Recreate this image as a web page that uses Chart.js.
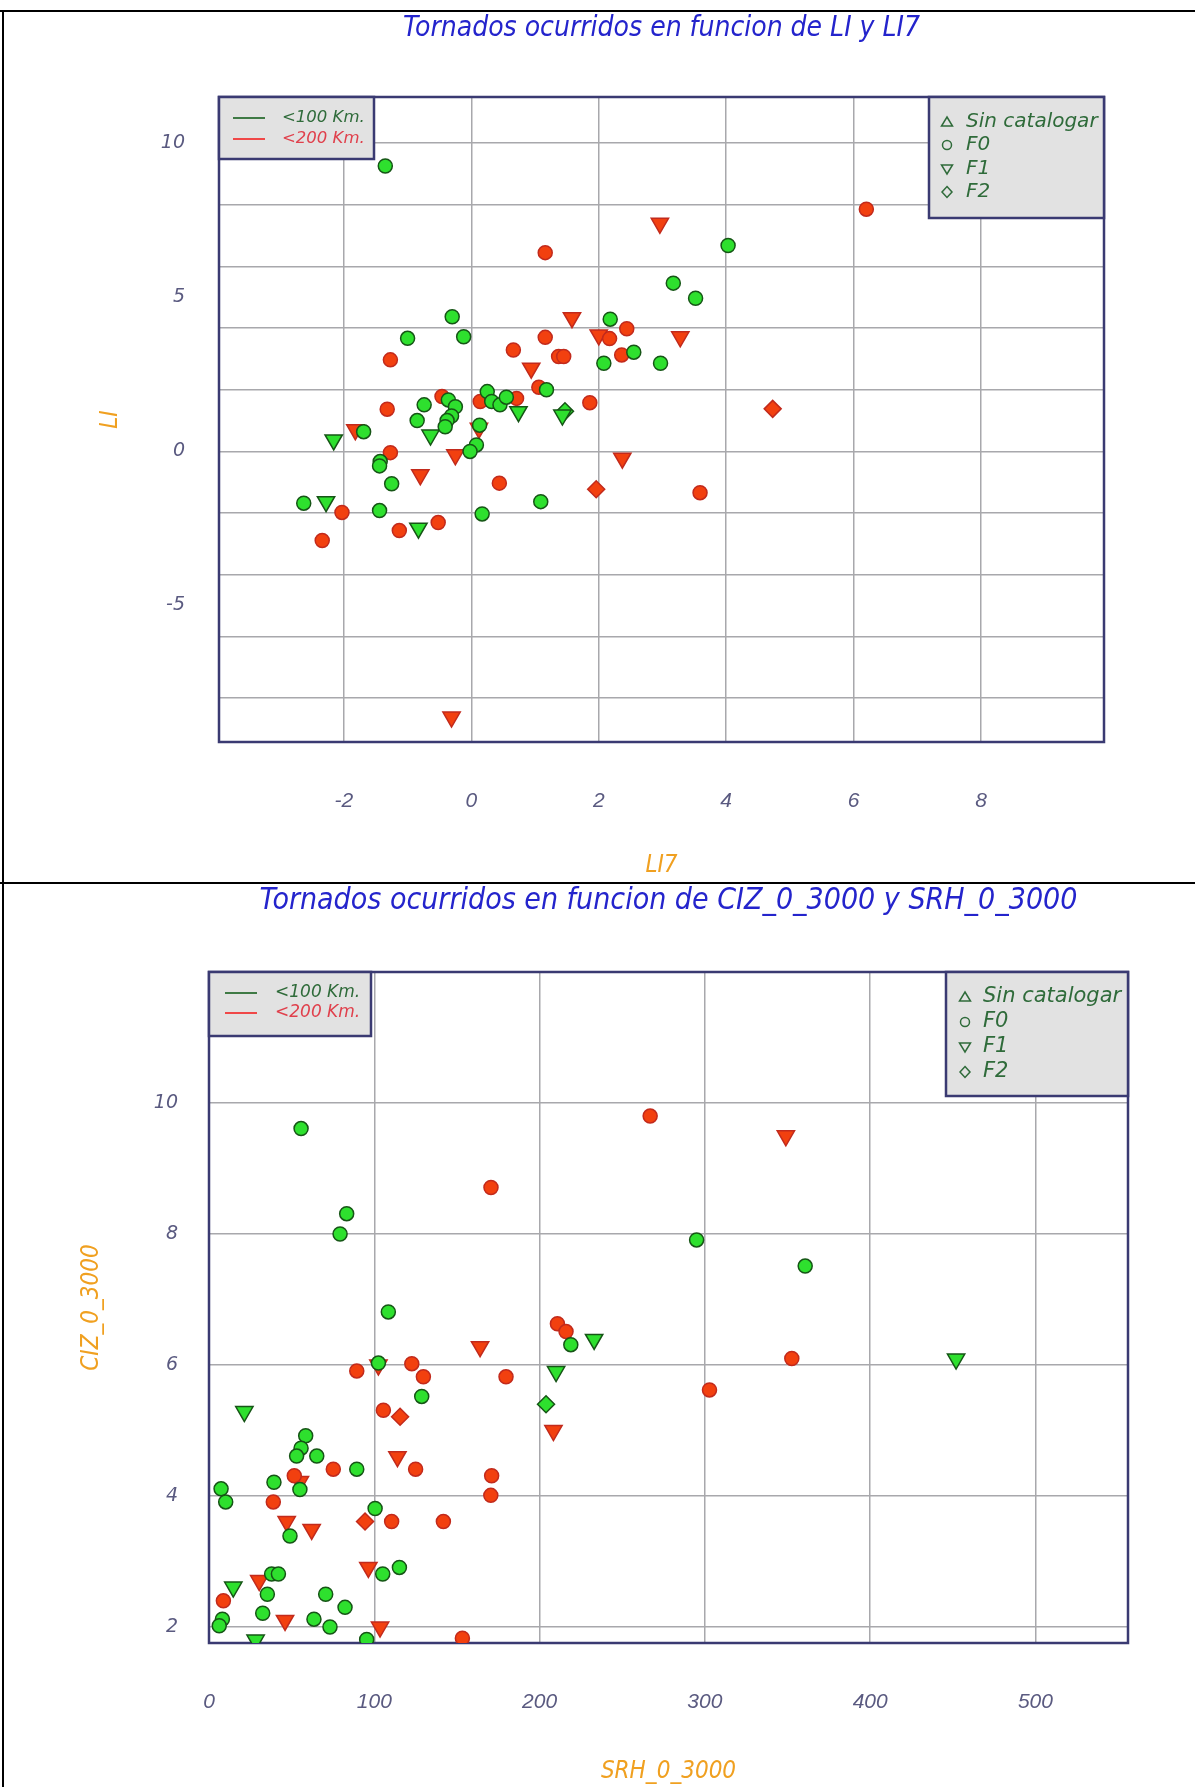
<!DOCTYPE html>
<html>
<head>
<meta charset="utf-8">
<script src="https://cdn.jsdelivr.net/npm/chart.js@4.4.1/dist/chart.umd.min.js"></script>
<style>
body { margin:0; background:#fff; width:1195px; height:1787px; position:relative; overflow:hidden; }
canvas { position:absolute; left:0; }
#c1 { top:0; }
#c2 { top:870px; }
.linea { position:absolute; background:#000; }
</style>
</head>
<body>
<canvas id="c1" width="1195" height="883"></canvas>
<canvas id="c2" width="1195" height="917"></canvas>
<div class="linea" style="left:0;top:10px;width:1195px;height:2px"></div>
<div class="linea" style="left:2px;top:10px;width:2px;height:1777px"></div>
<div class="linea" style="left:0;top:882px;width:1195px;height:2px"></div>
<script>
// ---- Datos grafico 1 : LI (y) en funcion de LI7 (x) ----
const li7_verde_F0 = [-1.35, -0.30, -1.00, -0.12, 4.03, 3.17, 3.52, 2.18, 2.55, 2.08, 2.97, 1.18, -0.36, -0.25, -0.31, -0.38, -0.41, -0.74, -0.85, 0.25, 0.32, 0.45, 0.55, -1.69, 0.13, 0.08, -0.02, -1.43, -1.44, -1.25, 1.09, -2.63, -1.44, 0.17];
const li_verde_F0  = [9.26, 4.37, 3.67, 3.72, 6.68, 5.46, 4.97, 4.29, 3.22, 2.86, 2.86, 2.00, 1.67, 1.45, 1.15, 1.00, 0.80, 1.51, 1.00, 1.94, 1.62, 1.51, 1.76, 0.64, 0.85, 0.21, 0.00, -0.33, -0.47, -1.05, -1.63, -1.68, -1.92, -2.03];
const li7_verde_F1 = [-0.64, 0.74, 1.43, -2.16, -2.28, -0.83];
const li_verde_F1  = [0.53, 1.29, 1.18, 0.37, -1.63, -2.49];
const li7_verde_F2 = [1.47];
const li_verde_F2  = [1.30];
const li7_rojo_F0 = [1.16, 6.20, 1.16, 2.17, 2.44, 2.36, 3.59, 0.66, 1.37, 1.45, -1.27, 1.06, -0.46, -1.32, 0.14, 0.71, 1.86, -1.27, 0.44, -2.03, -0.52, -1.13, -2.34];
const li_rojo_F0  = [6.45, 7.86, 3.70, 3.66, 3.98, 3.13, -1.34, 3.29, 3.08, 3.08, 2.97, 2.08, 1.78, 1.37, 1.62, 1.72, 1.58, -0.04, -1.03, -1.98, -2.31, -2.57, -2.89];
const li7_rojo_F1 = [1.58, 2.00, 2.96, 3.28, 2.37, 0.94, -1.82, 0.12, -0.25, -0.80, -0.31];
const li_rojo_F1  = [4.34, 3.78, 7.40, 3.72, -0.22, 2.70, 0.70, 0.75, -0.11, -0.76, -8.62];
const li7_rojo_F2 = [4.73, 1.96];
const li_rojo_F2  = [1.38, -1.23];

const etiquetasX1 = [-2, 0, 2, 4, 6, 8];
const etiquetasY1 = [-5, 0, 5, 10];
const rejillaY1 = [-8, -6, -4, -2, 0, 2, 4, 6, 8, 10];

// ---- Datos grafico 2 : CIZ_0_3000 (y) en funcion de SRH_0_3000 (x) ----
const srh_verde_F0 = [55.7, 83.3, 79.3, 295, 360.7, 108.5, 218.9, 102.5, 128.7, 58.5, 55.7, 53, 65.2, 89.4, 39.3, 55, 7.3, 10.1, 100.5, 49, 105.1, 115.2, 37.9, 42, 35.3, 70.6, 82.3, 8.1, 6.2, 32.5, 63.5, 73.2, 95.4];
const ciz_verde_F0 = [9.61, 8.31, 8.00, 7.91, 7.51, 6.81, 6.31, 6.03, 5.52, 4.92, 4.73, 4.61, 4.61, 4.41, 4.21, 4.10, 4.11, 3.91, 3.81, 3.39, 2.81, 2.91, 2.81, 2.81, 2.50, 2.50, 2.30, 2.12, 2.02, 2.21, 2.12, 2.00, 1.81];
const srh_verde_F1 = [452, 233, 210, 21.4, 14.7, 28.2];
const ciz_verde_F1 = [6.09, 6.39, 5.90, 5.29, 2.61, 1.80];
const srh_verde_F2 = [203.9];
const ciz_verde_F2 = [5.40];
const srh_rojo_F0 = [170.6, 266.9, 352.6, 302.8, 210.8, 216, 89.4, 122.7, 129.7, 179.7, 105.5, 75.2, 125, 171, 170.5, 51.6, 38.9, 110.5, 141.8, 8.7, 153.3];
const ciz_rojo_F0 = [8.71, 9.80, 6.10, 5.62, 6.63, 6.51, 5.91, 6.02, 5.82, 5.82, 5.31, 4.41, 4.41, 4.31, 4.01, 4.31, 3.91, 3.61, 3.61, 2.40, 1.83];
const srh_rojo_F1 = [349, 164, 102.5, 208.4, 114, 55, 47, 62.1, 96.4, 30.4, 46, 103.5];
const ciz_rojo_F1 = [9.50, 6.28, 6.00, 5.00, 4.60, 4.22, 3.61, 3.49, 2.91, 2.71, 2.10, 2.00];
const srh_rojo_F2 = [115.6, 94.4];
const ciz_rojo_F2 = [5.21, 3.61];

const etiquetasX2 = [0, 100, 200, 300, 400, 500];
const etiquetasY2 = [2, 4, 6, 8, 10];

const distancias = ['<100 Km.', '<200 Km.'];
const tipos = ['Sin catalogar', 'F0', 'F1', 'F2'];

// ---- estilos ----
const verde = '#2ee02e', verdeBorde = '#165516';
const rojo = '#f2400f', rojoBorde = '#c22a1c';
const colorTicks = '#5a5a80';
const colorTitulo = '#2424cc';
const colorEje = '#f0a020';
const colorRejilla = '#a8a8ac';
const colorMarco = '#3a3a72';
const fNarrow = '"Liberation Sans Narrow", "DejaVu Sans Condensed", "Liberation Sans", sans-serif';
const fSans = '"Liberation Sans", Arial, sans-serif';
const fDeja = '"DejaVu Sans", sans-serif';

function serie(nombre, xs, ys, forma, relleno, borde, radio, giro) {
    return {
        label: nombre,
        data: xs.map((x, i) => ({x: x, y: ys[i]})),
        pointStyle: forma,
        pointRadius: radio,
        pointHoverRadius: radio,
        pointRotation: giro,
        pointBackgroundColor: relleno,
        pointBorderColor: borde,
        pointBorderWidth: 1.5,
        showLine: false,
        clip: 0
    };
}

function series(x, y) {
    // verdes primero para que queden encima
    return [
        serie('<100 Km. F0', x.vF0, y.vF0, 'circle', verde, verdeBorde, 7, 0),
        serie('<100 Km. F1', x.vF1, y.vF1, 'triangle', verde, verdeBorde, 10, 180),
        serie('<100 Km. F2', x.vF2, y.vF2, 'rectRot', verde, verdeBorde, 8.5, 0),
        serie('<200 Km. F0', x.rF0, y.rF0, 'circle', rojo, rojoBorde, 7, 0),
        serie('<200 Km. F1', x.rF1, y.rF1, 'triangle', rojo, rojoBorde, 10, 180),
        serie('<200 Km. F2', x.rF2, y.rF2, 'rectRot', rojo, rojoBorde, 8.5, 0)
    ];
}

function simbolo(ctx, tipo, x, y) {
    ctx.beginPath();
    if (tipo === 0) {
        ctx.moveTo(x, y - 5); ctx.lineTo(x + 5.5, y + 4); ctx.lineTo(x - 5.5, y + 4); ctx.closePath();
    } else if (tipo === 1) {
        ctx.arc(x, y, 4.5, 0, Math.PI * 2);
    } else if (tipo === 2) {
        ctx.moveTo(x - 5.5, y - 4); ctx.lineTo(x + 5.5, y - 4); ctx.lineTo(x, y + 5); ctx.closePath();
    } else {
        ctx.moveTo(x, y - 5.5); ctx.lineTo(x + 5, y); ctx.lineTo(x, y + 5.5); ctx.lineTo(x - 5, y); ctx.closePath();
    }
    ctx.stroke();
}

// marco del area y las dos cajas de leyenda
const marcoYLeyendas = {
    id: 'marcoYLeyendas',
    beforeDatasetsDraw(chart) {
        const a = chart.chartArea, ctx = chart.ctx;
        ctx.save();
        ctx.strokeStyle = colorMarco;
        ctx.lineWidth = 2.5;
        ctx.strokeRect(a.left, a.top, a.right - a.left, a.bottom - a.top);
        ctx.restore();
    },
    afterDatasetsDraw(chart, args, o) {
        const a = chart.chartArea, ctx = chart.ctx;
        ctx.save();
        // caja izquierda
        ctx.fillStyle = '#e2e2e2';
        ctx.fillRect(a.left, a.top, o.izq.w, o.izq.h);
        ctx.strokeStyle = colorMarco;
        ctx.lineWidth = 2.5;
        ctx.strokeRect(a.left, a.top, o.izq.w, o.izq.h);
        ctx.font = 'oblique ' + o.izq.fuente + 'px ' + fDeja;
        ctx.textBaseline = 'middle';
        const coloresLinea = ['#3f7a45', '#f04848'];
        const coloresTexto = ['#2f6b3a', '#e0404c'];
        distancias.forEach((t, i) => {
            const yy = a.top + o.izq.filas[i];
            ctx.strokeStyle = coloresLinea[i];
            ctx.lineWidth = 2;
            ctx.beginPath();
            ctx.moveTo(a.left + o.izq.l0, yy); ctx.lineTo(a.left + o.izq.l1, yy);
            ctx.stroke();
            ctx.fillStyle = coloresTexto[i];
            ctx.fillText(t, a.left + o.izq.tx, yy);
        });
        // caja derecha
        const x0 = a.right - o.der.w;
        ctx.fillStyle = '#e2e2e2';
        ctx.fillRect(x0, a.top, o.der.w, o.der.h);
        ctx.strokeStyle = colorMarco;
        ctx.lineWidth = 2.5;
        ctx.strokeRect(x0, a.top, o.der.w, o.der.h);
        ctx.font = 'oblique ' + o.der.fuente + 'px ' + fDeja;
        tipos.forEach((t, i) => {
            const yy = a.top + o.der.filas[i];
            ctx.strokeStyle = '#2f6b3a';
            ctx.lineWidth = 1.5;
            simbolo(ctx, i, x0 + o.der.sx, yy);
            ctx.fillStyle = '#2f6b3a';
            ctx.fillText(t, x0 + o.der.tx, yy);
        });
        ctx.restore();
    }
};

function escalas(p) {
    return {
        x: {
            type: 'linear', min: p.xmin, max: p.xmax,
            afterBuildTicks: s => { s.ticks = p.xEtiq.map(v => ({value: v})); },
            afterFit: s => { s.height = p.altoX; },
            grid: {color: colorRejilla, lineWidth: 1.5, drawTicks: false},
            border: {display: false},
            ticks: {autoSkip: false, maxRotation: 0, padding: p.padX, color: colorTicks,
                    font: {family: fSans, size: 21, style: 'italic'}, callback: v => String(v)},
            title: {display: true, text: p.tituloX, color: colorEje,
                    font: {family: fNarrow, size: 24, style: 'italic', weight: 'normal'}, padding: {top: 0, bottom: p.padTitX}}
        },
        y: {
            type: 'linear', min: p.ymin, max: p.ymax,
            afterBuildTicks: s => {
                const v = Array.from(new Set(p.yEtiq.concat(p.yRejilla))).sort((a, b) => a - b);
                s.ticks = v.map(t => ({value: t}));
            },
            afterFit: s => { s.width = p.anchoY; },
            grid: {color: c => p.yRejilla.includes(c.tick.value) ? colorRejilla : 'rgba(0,0,0,0)', lineWidth: 1.5, drawTicks: false},
            border: {display: false},
            ticks: {autoSkip: false, padding: p.padY, color: colorTicks,
                    font: {family: fDeja, size: 19, style: 'italic'},
                    callback: v => p.yEtiq.includes(v) ? String(v) : ''},
            title: {display: true, text: p.tituloY, color: colorEje,
                    font: {family: fNarrow, size: 24, style: 'italic', weight: 'normal'}, padding: 0}
        }
    };
}

function grafico(id, p, datos) {
    return new Chart(document.getElementById(id), {
        type: 'scatter',
        data: {datasets: datos},
        options: {
            responsive: false, animation: false, devicePixelRatio: 1,
            layout: {padding: {left: p.padIzq, right: p.padDer, top: 0, bottom: 0}},
            scales: escalas(p),
            plugins: {
                legend: {display: false},
                tooltip: {enabled: false},
                title: {display: true, text: p.titulo, color: colorTitulo, fullSize: false,
                        font: {family: fNarrow, size: p.tamTitulo, style: 'italic', weight: 'normal'},
                        padding: {top: p.padTitSup, bottom: p.padTitInf}},
                marcoYLeyendas: p.leyendas
            }
        },
        plugins: [marcoYLeyendas]
    });
}

grafico('c1', {
    titulo: 'Tornados ocurridos en funcion de LI y LI7', tituloX: 'LI7', tituloY: 'LI', tamTitulo: 28,
    xmin: -3.96, xmax: 9.93, ymin: -9.43, ymax: 11.5,
    xEtiq: etiquetasX1, yEtiq: etiquetasY1, yRejilla: rejillaY1,
    padIzq: 96, padDer: 91, anchoY: 123, altoX: 141,
    padX: 47, padY: 34, padTitX: 3,
    padTitSup: 12, padTitInf: 51.4,
    leyendas: {
        izq: {w: 155, h: 62, filas: [21, 42], l0: 14, l1: 46, tx: 63, fuente: 16.5},
        der: {w: 175, h: 121, filas: [25, 48, 72, 95], sx: 18, tx: 37, fuente: 20}
    }
}, series(
    {vF0: li7_verde_F0, vF1: li7_verde_F1, vF2: li7_verde_F2, rF0: li7_rojo_F0, rF1: li7_rojo_F1, rF2: li7_rojo_F2},
    {vF0: li_verde_F0, vF1: li_verde_F1, vF2: li_verde_F2, rF0: li_rojo_F0, rF1: li_rojo_F1, rF2: li_rojo_F2}
));

grafico('c2', {
    titulo: 'Tornados ocurridos en funcion de CIZ_0_3000 y SRH_0_3000', tituloX: 'SRH_0_3000', tituloY: 'CIZ_0_3000', tamTitulo: 30,
    xmin: 0, xmax: 556, ymin: 1.756, ymax: 12.0,
    xEtiq: etiquetasX2, yEtiq: etiquetasY2, yRejilla: etiquetasY2,
    padIzq: 77, padDer: 67, anchoY: 132, altoX: 144,
    padX: 47, padY: 31, padTitX: 1,
    padTitSup: 13, padTitInf: 53,
    leyendas: {
        izq: {w: 162, h: 64, filas: [21, 41], l0: 16, l1: 48, tx: 66, fuente: 17},
        der: {w: 182, h: 124, filas: [25, 50, 75, 100], sx: 19, tx: 37, fuente: 21}
    }
}, series(
    {vF0: srh_verde_F0, vF1: srh_verde_F1, vF2: srh_verde_F2, rF0: srh_rojo_F0, rF1: srh_rojo_F1, rF2: srh_rojo_F2},
    {vF0: ciz_verde_F0, vF1: ciz_verde_F1, vF2: ciz_verde_F2, rF0: ciz_rojo_F0, rF1: ciz_rojo_F1, rF2: ciz_rojo_F2}
));
</script>
</body>
</html>
